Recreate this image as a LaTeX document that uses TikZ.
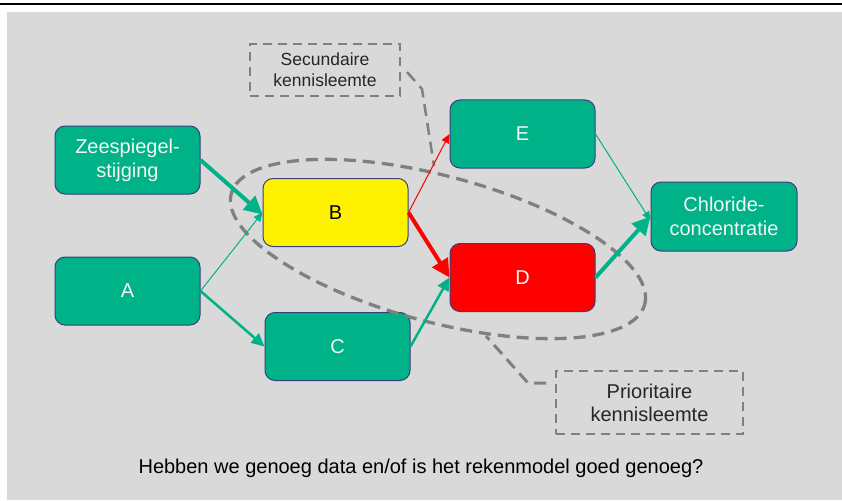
\documentclass[tikz,border=0pt]{standalone}
\usepackage{fontspec}
\setmainfont{Liberation Sans}
\usetikzlibrary{arrows.meta}
\definecolor{panel}{RGB}{217,217,217}
\definecolor{boxgreen}{RGB}{0,178,135}
\definecolor{boxedge}{RGB}{58,62,128}
\definecolor{gapgray}{RGB}{128,128,128}
\definecolor{lightwhite}{RGB}{245,245,245}
\tikzset{
  basebox/.style={draw=boxedge, line width=1pt, rounded corners=10pt, minimum width=145pt, minimum height=68pt, align=center, inner sep=0pt, font=\fontsize{20}{24}\selectfont},
  gbox/.style={basebox, fill=boxgreen, text=lightwhite},
  ybox/.style={basebox, fill=yellow, text=black},
  rbox/.style={basebox, fill=red, text=lightwhite},
  gapbox/.style={draw=gapgray, line width=2.5pt, dash pattern=on 9pt off 6pt, align=center, inner sep=0pt, text=black!85},
  gapline/.style={draw=gapgray, line width=3pt, dash pattern=on 12pt off 7pt},
  thickarr/.style={line width=4pt, -{Triangle[length=18pt,width=18pt]}},
  medarr/.style={line width=2.5pt, -{Triangle[length=13pt,width=12pt]}},
  thinarr/.style={line width=1pt, -{Triangle[length=9pt,width=8pt]}},
}
\begin{document}
\begin{tikzpicture}[x=1pt,y=-1pt]
\useasboundingbox (0,0) rectangle (842,500);
\fill[panel] (7,12) rectangle (842,500);
\draw[line width=2.5pt] (0,4) -- (842,4);

% boxes
\node[gbox] (Z) at (127.5,160) {Zeespiegel-\\stijging};
\node[gbox] (A) at (127.5,291) {A};
\node[ybox] (B) at (335.5,212.5) {B};
\node[gbox] (C) at (337.5,346.5) {C};
\node[gbox] (E) at (522.5,134) {E};
\node[rbox] (D) at (522.5,277.5) {D};
\node[gbox, minimum width=146pt, minimum height=69pt] (H) at (724,216.5) {Chloride-\\concentratie};

% callout boxes
\node[gapbox, minimum width=150pt, minimum height=52pt, font=\fontsize{17.5}{21}\selectfont] (S) at (325,70) {Secundaire\\kennisleemte};
\node[gapbox, minimum width=187pt, minimum height=63pt, font=\fontsize{20}{23}\selectfont] (P) at (649.5,402.5) {Prioritaire\\kennisleemte};

% knowledge gap ellipse
\draw[gapline, line width=3.3pt] (438,249) ellipse [x radius=214pt, y radius=73pt, rotate=-15];

% callout leader lines
\coordinate (s1) at (407,72);
\coordinate (s2) at (422,89);
\coordinate (s3) at (434,166);
\draw[gapline, line width=2.5pt] (s1) -- (s2) -- (s3);
\coordinate (p1) at (546,383);
\coordinate (p2) at (528,383);
\coordinate (p3) at (486,336);
\draw[gapline] (p1) -- (p2) -- (p3);

% connectors
\draw[thickarr, boxgreen] (Z.east) -- ([yshift=-2pt]B.west);
\draw[thinarr, boxgreen] (A.east) -- (B.west);
\draw[medarr, boxgreen] (A.east) -- (C.west);
\draw[medarr, boxgreen] (C.east) -- (D.west);
\draw[thinarr, red] (B.east) -- (E.west);
\draw[thickarr, red] (B.east) -- (D.west);
\draw[thinarr, boxgreen] (E.east) -- ([yshift=-4pt]H.west);
\draw[thickarr, boxgreen] (D.east) -- (H.west);

% question
\node[font=\fontsize{20}{24}\selectfont, anchor=base] (Q) at (421,473) {Hebben we genoeg data en/of is het rekenmodel goed genoeg?};
\end{tikzpicture}
\end{document}
